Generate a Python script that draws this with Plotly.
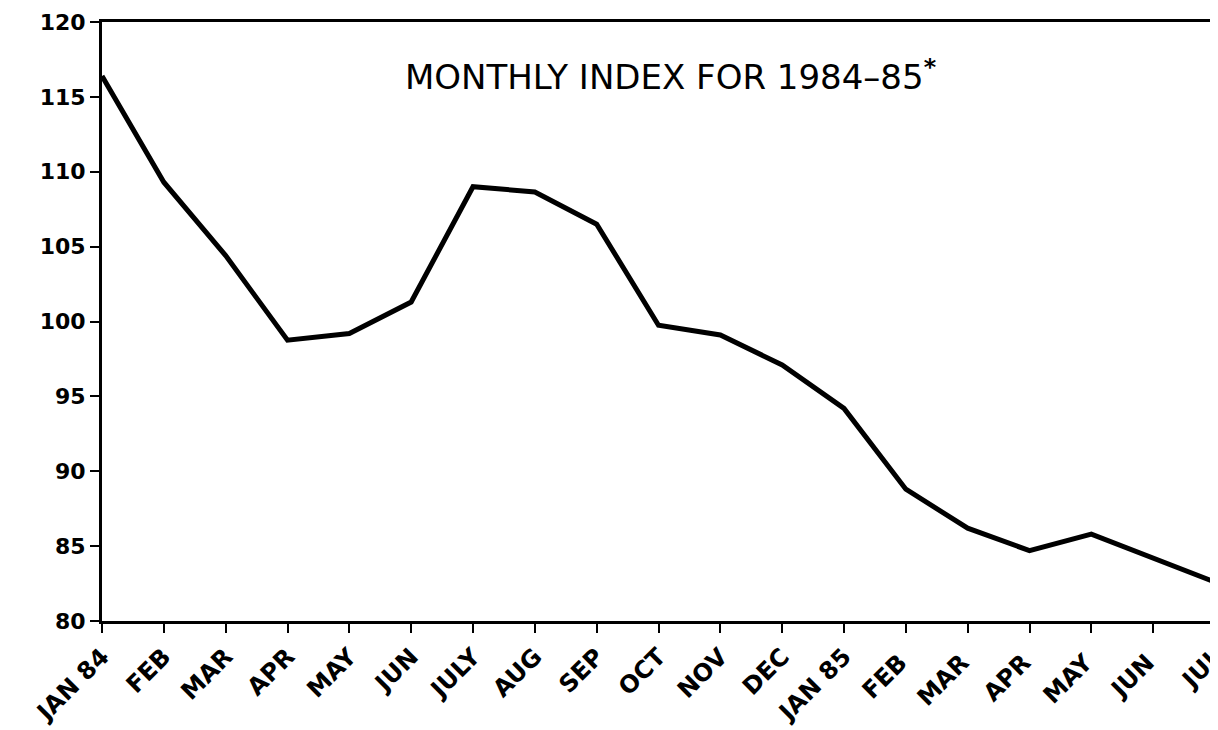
import plotly.graph_objects as go

months = ["JAN 84", "FEB", "MAR", "APR", "MAY", "JUN", "JULY", "AUG", "SEP", "OCT",
          "NOV", "DEC", "JAN 85", "FEB ", "MAR ", "APR ", "MAY ", "JUN ", "JUL"]
index_values = [116.4, 109.3, 104.4, 98.75, 99.2, 101.3, 109.0, 108.65, 106.5, 99.75,
                99.1, 97.1, 94.2, 88.8, 86.2, 84.7, 85.8, 84.2, 82.6]
y_ticks = [80, 85, 90, 95, 100, 105, 110, 115, 120]
title_text = "MONTHLY INDEX FOR 1984\u201385<sup><b>*</b></sup>"

fig = go.Figure()
fig.add_trace(go.Scatter(
    x=months, y=index_values, mode="lines",
    line=dict(color="black", width=5),
    showlegend=False,
))

fig.update_layout(
    width=1210, height=722,
    margin=dict(l=94, r=3, t=14, b=109),
    paper_bgcolor="white", plot_bgcolor="white",
    xaxis=dict(
        type="category", range=[0, len(months) - 1], automargin=False,
        showgrid=False, zeroline=False,
        showline=True, linecolor="black", linewidth=3, mirror=True,
        ticks="outside", ticklen=9, tickwidth=2, tickcolor="black",
        tickangle=-45,
        tickfont=dict(family="DejaVu Sans", size=24, color="black", weight="bold"),
    ),
    yaxis=dict(
        range=[80, 120], tickvals=y_ticks, automargin=False,
        showgrid=False, zeroline=False,
        showline=True, linecolor="black", linewidth=3,
        ticks="outside", ticklen=9, tickwidth=2, tickcolor="black",
        tickfont=dict(family="DejaVu Sans", size=22, color="black", weight="bold"),
    ),
)

fig.add_shape(type="line", xref="paper", yref="y", x0=1, x1=1, y0=80, y1=103.8,
              line=dict(color="black", width=3))

fig.add_annotation(
    text=title_text, xref="paper", yref="paper", x=0.511, y=0.911,
    xanchor="center", yanchor="middle", showarrow=False,
    font=dict(family="DejaVu Sans", size=34, color="black"),
)

fig.write_html("out.html")
